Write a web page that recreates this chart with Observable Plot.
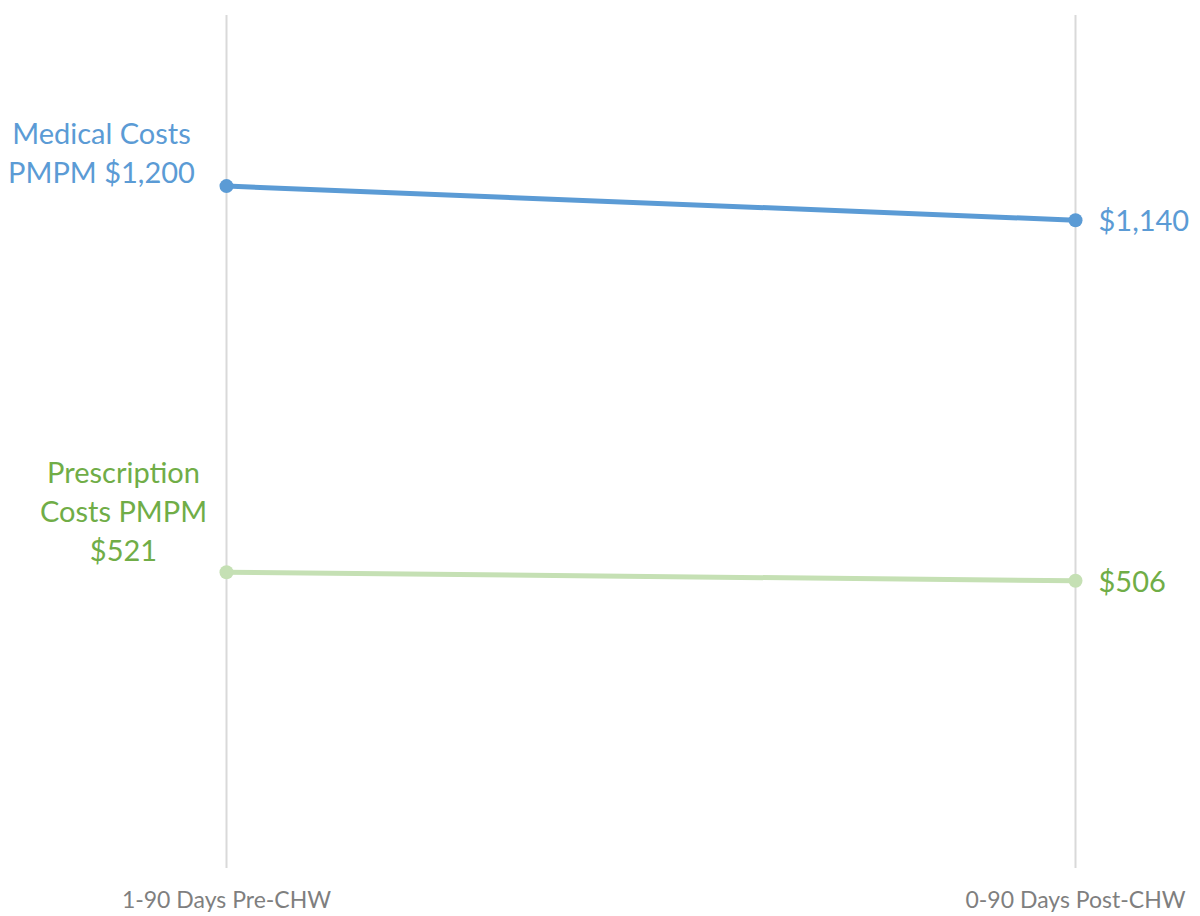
<!DOCTYPE html>
<html>
<head>
<meta charset="utf-8">
<script src="https://cdn.jsdelivr.net/npm/d3@7"></script>
<script src="https://cdn.jsdelivr.net/npm/@observablehq/plot@0.6"></script>
<style>
  body { margin: 0; background: #fff; }
  #chart svg { display: block; }
</style>
</head>
<body>
<div id="chart"></div>
<script>
const periods = ["1-90 Days Pre-CHW", "0-90 Days Post-CHW"];
const seriesNames = ["Medical Costs PMPM", "Prescription Costs PMPM"];
const medicalValues = [1200, 1140];
const prescriptionValues = [521, 506];

const data = [];
periods.forEach((p, i) => {
  data.push({series: seriesNames[0], period: p, value: medicalValues[i]});
  data.push({series: seriesNames[1], period: p, value: prescriptionValues[i]});
});
const fmt = v => "$" + d3.format(",")(v);
const lineColor = {"Medical Costs PMPM": "#5B9BD5", "Prescription Costs PMPM": "#C5E0B4"};
const textColor = {"Medical Costs PMPM": "#5B9BD5", "Prescription Costs PMPM": "#70AD47"};

const med = data.filter(d => d.series === seriesNames[0]);
const rx = data.filter(d => d.series === seriesNames[1]);
const font = "Lato, 'Open Sans', sans-serif";

const chart = Plot.plot({
  width: 1200,
  height: 916,
  marginLeft: 226,
  marginRight: 125,
  marginTop: 15,
  marginBottom: 48,
  style: {fontFamily: font, background: "#fff"},
  x: {type: "point", domain: periods, padding: 0, label: null},
  y: {domain: [0, 1500], axis: null},
  marks: [
    Plot.ruleX(periods, {x: d => d, y1: 0, y2: 1500, stroke: "#d9d9d9", strokeWidth: 2}),
    Plot.axisX({tickSize: 0, tickPadding: 23, fontSize: 23, color: "#7f7f7f", label: null}),
    Plot.line(med, {x: "period", y: "value", stroke: lineColor[seriesNames[0]], strokeWidth: 5}),
    Plot.line(rx, {x: "period", y: "value", stroke: lineColor[seriesNames[1]], strokeWidth: 5}),
    Plot.dot(med, {x: "period", y: "value", fill: lineColor[seriesNames[0]], r: 7}),
    Plot.dot(rx, {x: "period", y: "value", fill: lineColor[seriesNames[1]], r: 7}),
    // left labels
    Plot.text(med.filter(d => d.period === periods[0]), {
      x: "period", y: "value", text: d => "Medical Costs\nPMPM " + fmt(d.value),
      textAnchor: "middle", lineAnchor: "bottom", dx: -125, dy: -3, lineHeight: 1.35,
      fill: textColor[seriesNames[0]], fontSize: 29
    }),
    Plot.text(rx.filter(d => d.period === periods[0]), {
      x: "period", y: "value", text: d => "Prescription\nCosts PMPM\n" + fmt(d.value),
      textAnchor: "middle", lineAnchor: "bottom", dx: -103, dy: -11, lineHeight: 1.35,
      fill: textColor[seriesNames[1]], fontSize: 29
    }),
    // right labels
    Plot.text(med.filter(d => d.period === periods[1]), {
      x: "period", y: "value", text: d => fmt(d.value),
      textAnchor: "start", dx: 23, dy: 1, fill: textColor[seriesNames[0]], fontSize: 29
    }),
    Plot.text(rx.filter(d => d.period === periods[1]), {
      x: "period", y: "value", text: d => fmt(d.value),
      textAnchor: "start", dx: 23, dy: 2, fill: textColor[seriesNames[1]], fontSize: 29
    })
  ]
});
document.getElementById("chart").append(chart);
</script>
</body>
</html>
